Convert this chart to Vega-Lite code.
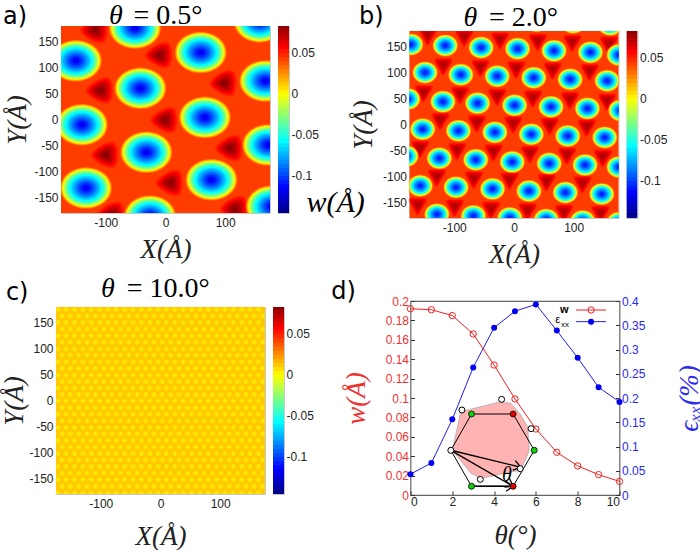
{"$schema":"https://vega.github.io/schema/vega-lite/v6.json","background":"white","padding":{"left":0,"top":1,"right":0,"bottom":0},
"config":{"view":{"stroke":"#c8c8c8"},"legend":{"disable":true},"locale":{"number":{"decimal":".","thousands":",","grouping":[3],"currency":["$",""],"minus":"-"}},
"axis":{"grid":false,"labelFont":"Liberation Sans","labelFontSize":12,"labelColor":"#222","tickSize":0,"domain":false,"titleFont":"Liberation Serif","titleFontStyle":"italic","titleFontSize":27,"titleFontWeight":"normal","titleColor":"#222"},
"point":{"filled":true,"opacity":1},
"style":{"wa":{"shape":"M-1,0C-1,-.45 -.55,-.8 0,-.8C.55,-.8 1,-.45 1,0C1,.45 .55,.8 0,.8C-.55,.8 -1,.45 -1,0Z"},"ra":{"shape":"M-.95,.02C-.95,-.2 -.3,-.75 .3,-.85C.7,-.9 .8,-.5 .8,0C.8,.5 .7,.9 .3,.85C-.3,.75 -.95,.25 -.95,.02Z"},"wb":{"shape":"M-1,0C-1,-.48 -.55,-.87 0,-.87C.55,-.87 1,-.48 1,0C1,.48 .55,.87 0,.87C-.55,.87 -1,.48 -1,0Z"},"rb":{"shape":"M-.05,1Q.05,1 .12,.85L.85,-.35Q1,-.7 .6,-.7L-.6,-.7Q-1,-.7 -.85,-.35L-.2,.85Q-.15,1 -.05,1Z"},"head":{"shape":"M-1,-.7L0,0L-1,.7","filled":false,"stroke":"black","strokeWidth":1.3,"fill":null}}},
"datasets":{
"wa":[{"x":-150,"y":113},{"x":59,"y":129},{"x":-42,"y":60},{"x":167,"y":74},{"x":-140,"y":-10},{"x":66,"y":4},{"x":-32,"y":-63},{"x":172,"y":-49},{"x":-133,"y":-132},{"x":77,"y":-116},{"x":-51,"y":176},{"x":158,"y":188},{"x":-26,"y":-186},{"x":178,"y":-167}],
"ra":[{"x":-118,"y":172},{"x":-10,"y":124},{"x":98,"y":70},{"x":-109,"y":56},{"x":-1,"y":-1},{"x":108,"y":-55},{"x":-100,"y":-68},{"x":8,"y":-122},{"x":116,"y":-172},{"x":-90,"y":-183}],
"wb":[{"x":-173,"y":154},{"x":-115,"y":152},{"x":-55,"y":148},{"x":6,"y":146},{"x":67,"y":142},{"x":128,"y":139},{"x":176,"y":134},{"x":-149,"y":100},{"x":-89,"y":96},{"x":-28,"y":93},{"x":33,"y":90},{"x":94,"y":87},{"x":156,"y":84},{"x":-178,"y":49},{"x":-119,"y":44},{"x":-61,"y":41},{"x":1,"y":37},{"x":62,"y":34},{"x":123,"y":31},{"x":179,"y":27},{"x":-153,"y":-9},{"x":-93,"y":-12},{"x":-32,"y":-15},{"x":29,"y":-19},{"x":90,"y":-22},{"x":152,"y":-25},{"x":-181,"y":-61},{"x":-125,"y":-65},{"x":-64,"y":-68},{"x":-3,"y":-72},{"x":59,"y":-75},{"x":119,"y":-78},{"x":176,"y":-82},{"x":-157,"y":-118},{"x":-97,"y":-121},{"x":-36,"y":-124},{"x":25,"y":-128},{"x":86,"y":-131},{"x":147,"y":-134},{"x":-129,"y":-173},{"x":-68,"y":-176},{"x":-7,"y":-180},{"x":54,"y":-183},{"x":115,"y":-186},{"x":176,"y":-189},{"x":-84,"y":205},{"x":-23,"y":202},{"x":38,"y":199},{"x":99,"y":196},{"x":161,"y":192}],
"rb":[{"x":-144,"y":172},{"x":-83,"y":169},{"x":-23,"y":164},{"x":40,"y":161},{"x":98,"y":159},{"x":159,"y":156},{"x":-118,"y":114},{"x":-56,"y":111},{"x":4,"y":108},{"x":65,"y":106},{"x":127,"y":103},{"x":-151,"y":62},{"x":-90,"y":59},{"x":-28,"y":55},{"x":32,"y":52},{"x":94,"y":49},{"x":156,"y":46},{"x":-123,"y":9},{"x":-62,"y":4},{"x":-1,"y":2},{"x":60,"y":-1},{"x":122,"y":-4},{"x":-157,"y":-45},{"x":-95,"y":-49},{"x":-34,"y":-52},{"x":27,"y":-55},{"x":89,"y":-58},{"x":149,"y":-62},{"x":-129,"y":-100},{"x":-67,"y":-104},{"x":-7,"y":-106},{"x":55,"y":-109},{"x":115,"y":-113},{"x":-161,"y":-155},{"x":-99,"y":-158},{"x":-38,"y":-162},{"x":23,"y":-165},{"x":84,"y":-168},{"x":145,"y":-170}],
"dc":[{"y":175,"x":[-172,-158,-144,-130,-116,-102,-88,-74,-60,-46,-32,-18,-4,10,24,38,52,66,80,94,108,122,136,150,164]},{"y":162,"x":[-165,-151,-137,-123,-109,-95,-81,-67,-53,-39,-25,-11,3,17,31,45,59,73,87,101,115,129,143,157,171]},{"y":150,"x":[-172,-158,-144,-130,-116,-102,-88,-74,-60,-46,-32,-18,-4,10,24,38,52,66,80,94,108,122,136,150,164]},{"y":137,"x":[-165,-151,-137,-123,-109,-95,-81,-67,-53,-39,-25,-11,3,17,31,45,59,73,87,101,115,129,143,157,171]},{"y":125,"x":[-172,-158,-144,-130,-116,-102,-88,-74,-60,-46,-32,-18,-4,10,24,38,52,66,80,94,108,122,136,150,164]},{"y":112,"x":[-165,-151,-137,-123,-109,-95,-81,-67,-53,-39,-25,-11,3,17,31,45,59,73,87,101,115,129,143,157,171]},{"y":99,"x":[-172,-158,-144,-130,-116,-102,-88,-74,-60,-46,-32,-18,-4,10,24,38,52,66,80,94,108,122,136,150,164]},{"y":87,"x":[-165,-151,-137,-123,-109,-95,-81,-67,-53,-39,-25,-11,3,17,31,45,59,73,87,101,115,129,143,157,171]},{"y":74,"x":[-172,-158,-144,-130,-116,-102,-88,-74,-60,-46,-32,-18,-4,10,24,38,52,66,80,94,108,122,136,150,164]},{"y":62,"x":[-165,-151,-137,-123,-109,-95,-81,-67,-53,-39,-25,-11,3,17,31,45,59,73,87,101,115,129,143,157,171]},{"y":49,"x":[-172,-158,-144,-130,-116,-102,-88,-74,-60,-46,-32,-18,-4,10,24,38,52,66,80,94,108,122,136,150,164]},{"y":36,"x":[-165,-151,-137,-123,-109,-95,-81,-67,-53,-39,-25,-11,3,17,31,45,59,73,87,101,115,129,143,157,171]},{"y":24,"x":[-172,-158,-144,-130,-116,-102,-88,-74,-60,-46,-32,-18,-4,10,24,38,52,66,80,94,108,122,136,150,164]},{"y":11,"x":[-165,-151,-137,-123,-109,-95,-81,-67,-53,-39,-25,-11,3,17,31,45,59,73,87,101,115,129,143,157,171]},{"y":-1,"x":[-172,-158,-144,-130,-116,-102,-88,-74,-60,-46,-32,-18,-4,10,24,38,52,66,80,94,108,122,136,150,164]},{"y":-14,"x":[-165,-151,-137,-123,-109,-95,-81,-67,-53,-39,-25,-11,3,17,31,45,59,73,87,101,115,129,143,157,171]},{"y":-26,"x":[-172,-158,-144,-130,-116,-102,-88,-74,-60,-46,-32,-18,-4,10,24,38,52,66,80,94,108,122,136,150,164]},{"y":-39,"x":[-165,-151,-137,-123,-109,-95,-81,-67,-53,-39,-25,-11,3,17,31,45,59,73,87,101,115,129,143,157,171]},{"y":-52,"x":[-172,-158,-144,-130,-116,-102,-88,-74,-60,-46,-32,-18,-4,10,24,38,52,66,80,94,108,122,136,150,164]},{"y":-64,"x":[-165,-151,-137,-123,-109,-95,-81,-67,-53,-39,-25,-11,3,17,31,45,59,73,87,101,115,129,143,157,171]},{"y":-77,"x":[-172,-158,-144,-130,-116,-102,-88,-74,-60,-46,-32,-18,-4,10,24,38,52,66,80,94,108,122,136,150,164]},{"y":-89,"x":[-165,-151,-137,-123,-109,-95,-81,-67,-53,-39,-25,-11,3,17,31,45,59,73,87,101,115,129,143,157,171]},{"y":-102,"x":[-172,-158,-144,-130,-116,-102,-88,-74,-60,-46,-32,-18,-4,10,24,38,52,66,80,94,108,122,136,150,164]},{"y":-115,"x":[-165,-151,-137,-123,-109,-95,-81,-67,-53,-39,-25,-11,3,17,31,45,59,73,87,101,115,129,143,157,171]},{"y":-127,"x":[-172,-158,-144,-130,-116,-102,-88,-74,-60,-46,-32,-18,-4,10,24,38,52,66,80,94,108,122,136,150,164]},{"y":-140,"x":[-165,-151,-137,-123,-109,-95,-81,-67,-53,-39,-25,-11,3,17,31,45,59,73,87,101,115,129,143,157,171]},{"y":-152,"x":[-172,-158,-144,-130,-116,-102,-88,-74,-60,-46,-32,-18,-4,10,24,38,52,66,80,94,108,122,136,150,164]},{"y":-165,"x":[-165,-151,-137,-123,-109,-95,-81,-67,-53,-39,-25,-11,3,17,31,45,59,73,87,101,115,129,143,157,171]},{"y":-178,"x":[-172,-158,-144,-130,-116,-102,-88,-74,-60,-46,-32,-18,-4,10,24,38,52,66,80,94,108,122,136,150,164]}],
"bar":[{"w":-0.146,"v":-0.14},{"w":-0.141,"v":-0.135},{"w":-0.136,"v":-0.13},{"w":-0.131,"v":-0.125},{"w":-0.126,"v":-0.12},{"w":-0.121,"v":-0.115},{"w":-0.116,"v":-0.11},{"w":-0.111,"v":-0.105},{"w":-0.106,"v":-0.1},{"w":-0.101,"v":-0.095},{"w":-0.096,"v":-0.09},{"w":-0.091,"v":-0.085},{"w":-0.086,"v":-0.08},{"w":-0.081,"v":-0.075},{"w":-0.076,"v":-0.07},{"w":-0.071,"v":-0.065},{"w":-0.066,"v":-0.06},{"w":-0.061,"v":-0.055},{"w":-0.056,"v":-0.05},{"w":-0.051,"v":-0.045},{"w":-0.046,"v":-0.04},{"w":-0.041,"v":-0.035},{"w":-0.036,"v":-0.03},{"w":-0.031,"v":-0.025},{"w":-0.026,"v":-0.02},{"w":-0.021,"v":-0.015},{"w":-0.016,"v":-0.01},{"w":-0.011,"v":-0.005},{"w":-0.006,"v":0},{"w":-0.001,"v":0.005},{"w":0.004,"v":0.01},{"w":0.009,"v":0.015},{"w":0.014,"v":0.02},{"w":0.019,"v":0.025},{"w":0.024,"v":0.03},{"w":0.029,"v":0.035},{"w":0.034,"v":0.04},{"w":0.039,"v":0.045},{"w":0.044,"v":0.05},{"w":0.049,"v":0.055},{"w":0.054,"v":0.06},{"w":0.059,"v":0.065},{"w":0.064,"v":0.07},{"w":0.069,"v":0.075},{"w":0.074,"v":0.08},{"w":0.079,"v":0.085}],
"dt":[{"t":0,"w":0.192,"e":0.043},{"t":1,"w":0.191,"e":0.066},{"t":2,"w":0.185,"e":0.156},{"t":3,"w":0.166,"e":0.263},{"t":4,"w":0.134,"e":0.345},{"t":5,"w":0.099,"e":0.379},{"t":6,"w":0.068,"e":0.393},{"t":7,"w":0.044,"e":0.339},{"t":8,"w":0.03,"e":0.283},{"t":9,"w":0.021,"e":0.222},{"t":10,"w":0.014,"e":0.192}]
},
"concat":[
{"hconcat":[{"width":5,"height":1,"view":{"stroke":null},"data":{"values":[]},"mark":"rect"},
{"hconcat":[
{"width":209,"height":187,"encoding":{"x":{"field":"x","type":"quantitative","scale":{"domain":[-175,175]},"axis":{"values":[-100,0,100],"format":"d","title":"X(Å)","labelPadding":4,"titlePadding":8}},"y":{"field":"y","type":"quantitative","scale":{"domain":[-180,180]},"axis":{"values":[-150,-100,-50,0,50,100,150],"format":"d","title":"Y(Å)","labelPadding":3,"titlePadding":2}}},
"layer":[
{"data":{"values":[{"x":-175,"x2":175,"y":-180,"y2":180,"w":0.04}]},"mark":{"type":"rect"},"encoding":{"x2":{"field":"x2"},"y2":{"field":"y2"},"color":{"field":"w","type":"quantitative","scale":{"domain":[-0.146,-0.1175,-0.0605,-0.0035,0.0535,0.082],"range":["#00008f","#0000ff","#00ffff","#ffff00","#ff0000","#800000"],"interpolate":"rgb","clamp":true}}}},
{"data":{"name":"ra"},"mark":{"type":"point","clip":true,"style":"ra","size":1000},"encoding":{"color":{"datum":0.045}}},
{"data":{"name":"ra"},"mark":{"type":"point","clip":true,"style":"ra","size":800},"encoding":{"color":{"datum":0.05}}},
{"data":{"name":"ra"},"mark":{"type":"point","clip":true,"style":"ra","size":620},"encoding":{"color":{"datum":0.055}}},
{"data":{"name":"ra"},"mark":{"type":"point","clip":true,"style":"ra","size":470},"encoding":{"color":{"datum":0.06}}},
{"data":{"name":"ra"},"mark":{"type":"point","clip":true,"style":"ra","size":340},"encoding":{"color":{"datum":0.065}}},
{"data":{"name":"ra"},"mark":{"type":"point","clip":true,"style":"ra","size":210},"encoding":{"color":{"datum":0.07}}},
{"data":{"name":"ra"},"mark":{"type":"point","clip":true,"style":"ra","size":100},"encoding":{"color":{"datum":0.075}}},
{"data":{"name":"ra"},"mark":{"type":"point","clip":true,"style":"ra","size":36},"encoding":{"color":{"datum":0.079}}},
{"data":{"name":"wa"},"mark":{"type":"point","clip":true,"style":"wa","size":2704},"encoding":{"color":{"datum":0.03}}},
{"data":{"name":"wa"},"mark":{"type":"point","clip":true,"style":"wa","size":2550},"encoding":{"color":{"datum":0.02}}},
{"data":{"name":"wa"},"mark":{"type":"point","clip":true,"style":"wa","size":2401},"encoding":{"color":{"datum":0.01}}},
{"data":{"name":"wa"},"mark":{"type":"point","clip":true,"style":"wa","size":2256},"encoding":{"color":{"datum":0}}},
{"data":{"name":"wa"},"mark":{"type":"point","clip":true,"style":"wa","size":2116},"encoding":{"color":{"datum":-0.01}}},
{"data":{"name":"wa"},"mark":{"type":"point","clip":true,"style":"wa","size":1936},"encoding":{"color":{"datum":-0.02}}},
{"data":{"name":"wa"},"mark":{"type":"point","clip":true,"style":"wa","size":1764},"encoding":{"color":{"datum":-0.03}}},
{"data":{"name":"wa"},"mark":{"type":"point","clip":true,"style":"wa","size":1560},"encoding":{"color":{"datum":-0.04}}},
{"data":{"name":"wa"},"mark":{"type":"point","clip":true,"style":"wa","size":1369},"encoding":{"color":{"datum":-0.05}}},
{"data":{"name":"wa"},"mark":{"type":"point","clip":true,"style":"wa","size":1156},"encoding":{"color":{"datum":-0.06}}},
{"data":{"name":"wa"},"mark":{"type":"point","clip":true,"style":"wa","size":900},"encoding":{"color":{"datum":-0.07}}},
{"data":{"name":"wa"},"mark":{"type":"point","clip":true,"style":"wa","size":676},"encoding":{"color":{"datum":-0.08}}},
{"data":{"name":"wa"},"mark":{"type":"point","clip":true,"style":"wa","size":462},"encoding":{"color":{"datum":-0.09}}},
{"data":{"name":"wa"},"mark":{"type":"point","clip":true,"style":"wa","size":289},"encoding":{"color":{"datum":-0.1}}},
{"data":{"name":"wa"},"mark":{"type":"point","clip":true,"style":"wa","size":144},"encoding":{"color":{"datum":-0.11}}},
{"data":{"name":"wa"},"mark":{"type":"point","clip":true,"style":"wa","size":49},"encoding":{"color":{"datum":-0.12}}},
{"data":{"values":[{"x":-252,"y":198,"s":"a)"}]},"mark":{"type":"text","font":"DejaVu Sans","fontSize":24},"encoding":{"text":{"field":"s"}}},
{"data":{"values":[{"x":-83,"y":199,"s":"θ"}]},"mark":{"type":"text","font":"Liberation Serif","fontStyle":"italic","fontSize":28},"encoding":{"text":{"field":"s"}}},
{"data":{"values":[{"x":4,"y":199,"s":"= 0.5°"}]},"mark":{"type":"text","font":"Liberation Serif","fontSize":28},"encoding":{"text":{"field":"s"}}},
{"data":{"values":[{"x":285,"y":-161,"s":"w(Å)"}]},"mark":{"type":"text","font":"Liberation Serif","fontStyle":"italic","fontSize":30},"encoding":{"text":{"field":"s"}}},
{"data":{"values":[{"x":363.4,"y":0}]},"mark":{"type":"point","opacity":0,"size":1}}
]},
{"width":11,"height":187,"data":{"name":"bar"},"mark":{"type":"rect","clip":true},"encoding":{"y":{"field":"w","type":"quantitative","scale":{"domain":[-0.146,0.082]},"axis":{"orient":"right","values":[-0.1,-0.05,0,0.05],"format":"~g","title":null,"labelPadding":2}},"y2":{"field":"v"},"color":{"field":"w","type":"quantitative","scale":{"domain":[-0.146,-0.1175,-0.0605,-0.0035,0.0535,0.082],"range":["#00008f","#0000ff","#00ffff","#ffff00","#ff0000","#800000"],"interpolate":"rgb","clamp":true}}}}
],"spacing":8,"bounds":"flush"}],"spacing":0,"bounds":"flush"},
{"vconcat":[{"width":1,"height":5,"view":{"stroke":null},"data":{"values":[]},"mark":"rect"},
{"hconcat":[
{"width":209,"height":187,"encoding":{"x":{"field":"x","type":"quantitative","scale":{"domain":[-175,175]},"axis":{"values":[-100,0,100],"format":"d","title":"X(Å)","labelPadding":4,"titlePadding":8}},"y":{"field":"y","type":"quantitative","scale":{"domain":[-180,180]},"axis":{"values":[-150,-100,-50,0,50,100,150],"format":"d","title":"Y(Å)","labelPadding":3,"titlePadding":5}}},
"layer":[
{"data":{"values":[{"x":-175,"x2":175,"y":-180,"y2":180,"w":0.04}]},"mark":{"type":"rect"},"encoding":{"x2":{"field":"x2"},"y2":{"field":"y2"},"color":{"field":"w","type":"quantitative","scale":{"domain":[-0.146,-0.1175,-0.0605,-0.0035,0.0535,0.082],"range":["#00008f","#0000ff","#00ffff","#ffff00","#ff0000","#800000"],"interpolate":"rgb","clamp":true}}}},
{"data":{"name":"rb"},"mark":{"type":"point","clip":true,"style":"rb","size":441},"encoding":{"color":{"datum":0.045}}},
{"data":{"name":"rb"},"mark":{"type":"point","clip":true,"style":"rb","size":361},"encoding":{"color":{"datum":0.05}}},
{"data":{"name":"rb"},"mark":{"type":"point","clip":true,"style":"rb","size":289},"encoding":{"color":{"datum":0.055}}},
{"data":{"name":"rb"},"mark":{"type":"point","clip":true,"style":"rb","size":196},"encoding":{"color":{"datum":0.06}}},
{"data":{"name":"rb"},"mark":{"type":"point","clip":true,"style":"rb","size":121},"encoding":{"color":{"datum":0.065}}},
{"data":{"name":"rb"},"mark":{"type":"point","clip":true,"style":"rb","size":64},"encoding":{"color":{"datum":0.07}}},
{"data":{"name":"wb"},"mark":{"type":"point","clip":true,"style":"wb","size":650},"encoding":{"color":{"datum":0.03}}},
{"data":{"name":"wb"},"mark":{"type":"point","clip":true,"style":"wb","size":600},"encoding":{"color":{"datum":0.02}}},
{"data":{"name":"wb"},"mark":{"type":"point","clip":true,"style":"wb","size":560},"encoding":{"color":{"datum":0.01}}},
{"data":{"name":"wb"},"mark":{"type":"point","clip":true,"style":"wb","size":529},"encoding":{"color":{"datum":0}}},
{"data":{"name":"wb"},"mark":{"type":"point","clip":true,"style":"wb","size":490},"encoding":{"color":{"datum":-0.01}}},
{"data":{"name":"wb"},"mark":{"type":"point","clip":true,"style":"wb","size":450},"encoding":{"color":{"datum":-0.02}}},
{"data":{"name":"wb"},"mark":{"type":"point","clip":true,"style":"wb","size":410},"encoding":{"color":{"datum":-0.03}}},
{"data":{"name":"wb"},"mark":{"type":"point","clip":true,"style":"wb","size":370},"encoding":{"color":{"datum":-0.04}}},
{"data":{"name":"wb"},"mark":{"type":"point","clip":true,"style":"wb","size":325},"encoding":{"color":{"datum":-0.05}}},
{"data":{"name":"wb"},"mark":{"type":"point","clip":true,"style":"wb","size":280},"encoding":{"color":{"datum":-0.06}}},
{"data":{"name":"wb"},"mark":{"type":"point","clip":true,"style":"wb","size":225},"encoding":{"color":{"datum":-0.07}}},
{"data":{"name":"wb"},"mark":{"type":"point","clip":true,"style":"wb","size":165},"encoding":{"color":{"datum":-0.08}}},
{"data":{"name":"wb"},"mark":{"type":"point","clip":true,"style":"wb","size":105},"encoding":{"color":{"datum":-0.09}}},
{"data":{"name":"wb"},"mark":{"type":"point","clip":true,"style":"wb","size":55},"encoding":{"color":{"datum":-0.1}}},
{"data":{"name":"wb"},"mark":{"type":"point","clip":true,"style":"wb","size":22},"encoding":{"color":{"datum":-0.11}}},
{"data":{"values":[{"x":-239,"y":207,"s":"b)"}]},"mark":{"type":"text","font":"DejaVu Sans","fontSize":24},"encoding":{"text":{"field":"s"}}},
{"data":{"values":[{"x":-73,"y":205,"s":"θ"}]},"mark":{"type":"text","font":"Liberation Serif","fontStyle":"italic","fontSize":28},"encoding":{"text":{"field":"s"}}},
{"data":{"values":[{"x":16,"y":205,"s":"= 2.0°"}]},"mark":{"type":"text","font":"Liberation Serif","fontSize":28},"encoding":{"text":{"field":"s"}}},
{"data":{"values":[{"x":-304,"y":0}]},"mark":{"type":"point","opacity":0,"size":1}}
]},
{"width":11,"height":187,"data":{"name":"bar"},"mark":{"type":"rect","clip":true},"encoding":{"y":{"field":"w","type":"quantitative","scale":{"domain":[-0.146,0.082]},"axis":{"orient":"right","values":[-0.1,-0.05,0,0.05],"format":"~g","title":null,"labelPadding":2}},"y2":{"field":"v"},"color":{"field":"w","type":"quantitative","scale":{"domain":[-0.146,-0.1175,-0.0605,-0.0035,0.0535,0.082],"range":["#00008f","#0000ff","#00ffff","#ffff00","#ff0000","#800000"],"interpolate":"rgb","clamp":true}}}}
],"spacing":8,"bounds":"flush"}],"spacing":0,"bounds":"flush"},
{"hconcat":[
{"width":209,"height":187,"encoding":{"x":{"field":"x","type":"quantitative","scale":{"domain":[-175,175]},"axis":{"values":[-100,0,100],"format":"d","title":"X(Å)","labelPadding":4,"titlePadding":14}},"y":{"field":"y","type":"quantitative","scale":{"domain":[-180,180]},"axis":{"values":[-150,-100,-50,0,50,100,150],"format":"d","title":"Y(Å)","labelPadding":3,"titlePadding":0}}},
"layer":[
{"data":{"values":[{"x":-175,"x2":175,"y":-180,"y2":180,"w":0.0085}]},"mark":{"type":"rect"},"encoding":{"x2":{"field":"x2"},"y2":{"field":"y2"},"color":{"field":"w","type":"quantitative","scale":{"domain":[-0.146,-0.1175,-0.0605,-0.0035,0.0535,0.082],"range":["#00008f","#0000ff","#00ffff","#ffff00","#ff0000","#800000"],"interpolate":"rgb","clamp":true}}}},
{"data":{"name":"dc"},"transform":[{"flatten":["x"]}],"mark":{"type":"point","clip":true,"size":30},"encoding":{"color":{"datum":0.005}}},
{"data":{"name":"dc"},"transform":[{"flatten":["x"]}],"mark":{"type":"point","clip":true,"size":10},"encoding":{"color":{"datum":0.001}}},
{"data":{"values":[{"x":-240,"y":206,"s":"c)"}]},"mark":{"type":"text","font":"DejaVu Sans","fontSize":24},"encoding":{"text":{"field":"s"}}},
{"data":{"values":[{"x":-88,"y":215,"s":"θ"}]},"mark":{"type":"text","font":"Liberation Serif","fontStyle":"italic","fontSize":28},"encoding":{"text":{"field":"s"}}},
{"data":{"values":[{"x":13,"y":215,"s":"= 10.0°"}]},"mark":{"type":"text","font":"Liberation Serif","fontSize":28},"encoding":{"text":{"field":"s"}}},
{"data":{"values":[{"x":0,"y":249.4}]},"mark":{"type":"point","opacity":0,"size":1}}
]},
{"width":11,"height":187,"layer":[
{"data":{"name":"bar"},"mark":{"type":"rect","clip":true},"encoding":{"y":{"field":"w","type":"quantitative","scale":{"domain":[-0.146,0.082]},"axis":{"orient":"right","values":[-0.1,-0.05,0,0.05],"format":"~g","title":null,"labelPadding":2}},"y2":{"field":"v"},"color":{"field":"w","type":"quantitative","scale":{"domain":[-0.146,-0.1175,-0.0605,-0.0035,0.0535,0.082],"range":["#00008f","#0000ff","#00ffff","#ffff00","#ff0000","#800000"],"interpolate":"rgb","clamp":true}}}}
]}
],"spacing":8,"bounds":"flush"},
{"width":209,"height":194,"view":{"stroke":"#666","strokeWidth":1.2},"resolve":{"scale":{"y":"independent"}},"layer":[
{"data":{"name":"dt"},"encoding":{"x":{"field":"t","type":"quantitative","scale":{"domain":[0,10]},"axis":{"values":[0,2,4,6,8,10],"title":"θ(°)","labelPadding":5,"titlePadding":15,"tickSize":-4,"tickColor":"#333"}},"y":{"field":"e","type":"quantitative","scale":{"domain":[0,0.4]},"axis":{"orient":"right","values":[0,0.05,0.1,0.15,0.2,0.25,0.3,0.35,0.4],"format":"~g","labelColor":"#2a2af0","title":"ϵₓₓ(%)","titleColor":"#2a2af0","titleAngle":270,"labelPadding":6,"titlePadding":59,"tickSize":-4,"tickColor":"#333"}}},
"layer":[{"mark":{"type":"line","color":"#2020f0","strokeWidth":1}},{"mark":{"type":"point","color":"#0000f0","size":36}}]},
{"encoding":{"x":{"field":"t","type":"quantitative","scale":{"domain":[0,10]},"axis":{"values":[0,2,4,6,8,10],"title":"θ(°)","labelPadding":5,"titlePadding":15,"tickSize":-4,"tickColor":"#333"}},"y":{"field":"w","type":"quantitative","scale":{"domain":[0,0.2]},"axis":{"orient":"left","values":[0,0.02,0.04,0.06,0.08,0.1,0.12,0.14,0.16,0.18,0.2],"format":"~g","labelColor":"#f03030","title":"w(Å)","titleColor":"#f03030","labelPadding":6,"titlePadding":15,"tickSize":-4,"tickColor":"#333"}}},
"layer":[
{"data":{"name":"dt"},"mark":{"type":"line","color":"#f02020","strokeWidth":1}},
{"data":{"name":"dt"},"mark":{"type":"point","filled":false,"color":"#f02020","size":40,"strokeWidth":1}},
{"data":{"values":[{"t":7.92,"w":0.1907,"t2":9.36}]},"mark":{"type":"rule","color":"#f02020"},"encoding":{"x2":{"field":"t2"}}},
{"data":{"values":[{"t":7.92,"w":0.1787,"t2":9.36}]},"mark":{"type":"rule","color":"#2020f0"},"encoding":{"x2":{"field":"t2"}}},
{"data":{"values":[{"t":8.64,"w":0.1907}]},"mark":{"type":"point","filled":false,"color":"#f02020","size":40,"strokeWidth":1}},
{"data":{"values":[{"t":8.64,"w":0.1787}]},"mark":{"type":"point","color":"#0000f0","size":36}},
{"data":{"values":[{"t":7.36,"w":0.1907,"s":"w"}]},"mark":{"type":"text","font":"Liberation Sans","fontSize":11,"fontWeight":"bold"},"encoding":{"text":{"field":"s"}}},
{"data":{"values":[{"t":7.04,"w":0.1804,"s":"ε"}]},"mark":{"type":"text","font":"Liberation Sans","fontSize":11},"encoding":{"text":{"field":"s"}}},
{"data":{"values":[{"t":7.39,"w":0.1753,"s":"xx"}]},"mark":{"type":"text","font":"Liberation Sans","fontSize":8},"encoding":{"text":{"field":"s"}}},
{"data":{"values":[{"t":2.01,"w":0.0464,"u":0.0464},{"t":2.25,"w":0.0704,"u":0.0398},{"t":2.41,"w":0.0859,"u":0.0354},{"t":2.89,"w":0.0885,"u":0.0223},{"t":3.37,"w":0.0911,"u":0.0172},{"t":4.32,"w":0.0962,"u":0.0215},{"t":4.8,"w":0.0945,"u":0.0237},{"t":5.28,"w":0.0825,"u":0.0258},{"t":5.6,"w":0.0704,"u":0.0413},{"t":5.68,"w":0.0464,"u":0.0464}]},"mark":{"type":"area","color":"#ffb3b3","stroke":"#aaa","strokeWidth":0.8,"opacity":1},"encoding":{"y2":{"field":"u"}}},
{"data":{"values":[{"t":2.92,"w":0.0835,"o":1},{"t":4.91,"w":0.0835,"o":2},{"t":5.92,"w":0.0461,"o":3},{"t":4.91,"w":0.009,"o":4},{"t":2.92,"w":0.009,"o":5},{"t":1.93,"w":0.0461,"o":6},{"t":2.92,"w":0.0835,"o":7}]},"mark":{"type":"line","color":"black","strokeWidth":1},"encoding":{"order":{"field":"o"}}},
{"data":{"values":[{"t":1.93,"w":0.0461,"t2":4.91,"v":0.009},{"t":1.93,"w":0.0461,"t2":5.28,"v":0.0286},{"t":2.92,"w":0.009,"t2":4.91,"v":0.009}]},"mark":{"type":"rule","color":"black","strokeWidth":1.4},"encoding":{"x2":{"field":"t2"},"y2":{"field":"v"}}},
{"data":{"values":[{"t":5.28,"w":0.0286}]},"mark":{"type":"point","style":"head","angle":15,"size":200,"filled":false,"color":"black"}},
{"data":{"values":[{"t":4.91,"w":0.009}]},"mark":{"type":"point","style":"head","angle":30,"size":200,"filled":false,"color":"black"}},
{"data":{"values":[{"t":4.91,"w":0.009}]},"mark":{"type":"point","style":"head","angle":0,"size":200,"filled":false,"color":"black"}},
{"data":{"values":[{"t":2.46,"w":0.0876},{"t":4.36,"w":0.0986},{"t":5.77,"w":0.0684},{"t":5.25,"w":0.0271},{"t":3.34,"w":0.0161},{"t":1.93,"w":0.0461}]},"mark":{"type":"point","color":"white","stroke":"black","strokeWidth":1,"size":36}},
{"data":{"values":[{"t":2.92,"w":0.0835},{"t":5.92,"w":0.0461},{"t":2.92,"w":0.009}]},"mark":{"type":"point","color":"#10d010","stroke":"black","strokeWidth":0.8,"size":36}},
{"data":{"values":[{"t":4.91,"w":0.0835},{"t":4.91,"w":0.009}]},"mark":{"type":"point","color":"#e00000","stroke":"black","strokeWidth":0.8,"size":36}},
{"data":{"values":[{"t":4.61,"w":0.0206,"s":"θ"}]},"mark":{"type":"text","font":"Liberation Serif","fontStyle":"italic","fontSize":20},"encoding":{"text":{"field":"s"}}},
{"data":{"values":[{"t":-3.2,"w":0.209,"s":"d)"}]},"mark":{"type":"text","font":"DejaVu Sans","fontSize":24},"encoding":{"text":{"field":"s"}}},
{"data":{"values":[{"t":5,"w":0.2309}]},"mark":{"type":"point","opacity":0,"size":1}}
]}
]}
],"columns":2,"align":"none","spacing":{"column":-53.5,"row":1},"bounds":"full"}
